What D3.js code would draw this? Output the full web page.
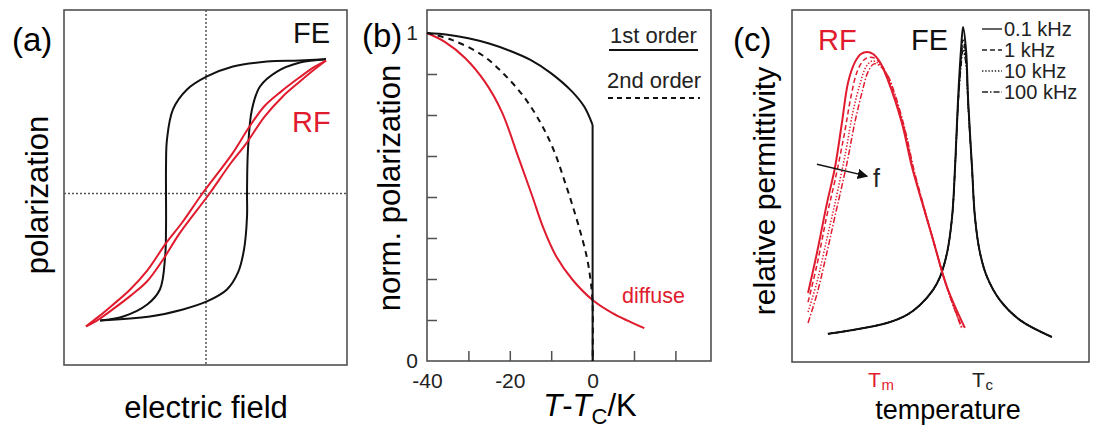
<!DOCTYPE html>
<html><head><meta charset="utf-8">
<script src="https://cdn.jsdelivr.net/npm/d3@7"></script>
<style>
body{margin:0;background:#fff}
svg{display:block;font-family:"Liberation Sans",Arial,sans-serif}
</style>
</head><body>
<svg id="chart" width="1096" height="436"></svg>
<script>
// ---------- Panel (a): hysteresis loops (normalized E, P) ----------
const feUpperE = [1.00, 0.78, 0.508, 0.225, 0.008, -0.158, -0.275, -0.325, -0.333, -0.333, -0.333, -0.34, -0.383, -0.49, -0.69, -0.883];
const feUpperP = [1.01, 1.00, 0.992, 0.955, 0.88, 0.782, 0.632, 0.406, 0.203, 0.0, -0.27, -0.47, -0.72, -0.835, -0.925, -0.955];
const feLowerE = [-0.883, -0.467, -0.192, 0.008, 0.175, 0.267, 0.317, 0.342, 0.342, 0.35, 0.383, 0.45, 0.592, 0.783, 1.00];
const feLowerP = [-0.955, -0.925, -0.872, -0.812, -0.722, -0.594, -0.421, -0.173, 0.008, 0.331, 0.632, 0.805, 0.917, 0.985, 1.01];
const rfUpE = [-1.00, -0.90, -0.775, -0.63, -0.49, -0.36, -0.22, 0.03, 0.20, 0.33, 0.49, 0.64, 0.78, 0.90, 1.00];
const rfUpP = [-1.00, -0.95, -0.87, -0.77, -0.66, -0.50, -0.30, 0.00, 0.22, 0.37, 0.58, 0.73, 0.84, 0.93, 1.00];
const rfDownE = [1.00, 0.90, 0.775, 0.63, 0.49, 0.36, 0.22, -0.03, -0.20, -0.33, -0.49, -0.64, -0.78, -0.90, -1.00];
const rfDownP = [1.00, 0.95, 0.87, 0.77, 0.66, 0.50, 0.30, 0.00, -0.22, -0.37, -0.58, -0.73, -0.84, -0.93, -1.00];

// ---------- Panel (b): normalized polarization vs T-Tc ----------
const bXTicks = [-30, -20, -10, 0, 10, 20];
const bXLabels = [-40, -20, 0];
const bYTicks = [0.125, 0.25, 0.375, 0.5, 0.625, 0.75, 0.875];
const bYLabels = [0, 1];
const firstT = [-40, -35, -30, -25, -20, -15, -10, -5, -2, 0];
const firstP = [1.0, 0.995, 0.984, 0.968, 0.946, 0.918, 0.877, 0.822, 0.775, 0.72];
const secondT = [-40, -34, -26.7, -21.2, -16.4, -12.3, -9.2, -6.8, -5.0, -3.1, -1.4, -0.5, 0, 0];
const secondP = [1.0, 0.979, 0.933, 0.872, 0.802, 0.72, 0.637, 0.55, 0.48, 0.40, 0.317, 0.247, 0.177, 0];
const diffuseT = [-40, -35.7, -30.8, -26.0, -21.9, -18.1, -16.9, -14.5, -12.0, -8.7, -4.8, 0, 4.8, 12.5];
const diffuseP = [1.0, 0.973, 0.924, 0.851, 0.759, 0.627, 0.585, 0.50, 0.409, 0.317, 0.247, 0.186, 0.146, 0.10];

// ---------- Panel (c): relative permittivity vs temperature (arb. units) ----------
const freqLabels = ["0.1 kHz", "1 kHz", "10 kHz", "100 kHz"];
const rf01T = [5.4, 8.4, 11.8, 14.5, 16.8, 18.9, 21.2, 23.2, 25.3, 27.3, 29.6, 32.3, 37.0, 40.4, 43.1, 47.5, 52.2, 58.2];
const rf01E = [19.6, 31.0, 45.2, 55.4, 67.9, 79.5, 85.2, 87.5, 88.1, 87.5, 85.2, 80.1, 67.9, 55.4, 47.4, 34.7, 21.3, 9.7];
const rf1T = [5.4, 8.4, 11.8, 14.5, 17.5, 19.9, 21.9, 24.2, 26.3, 28.3, 30.6, 33.0, 37.4, 40.7, 43.4, 47.5, 51.9, 57.2];
const rf1E = [17.0, 27.6, 41.8, 51.7, 64.2, 75.6, 82.4, 85.8, 86.6, 86.1, 83.8, 79.0, 67.3, 55.1, 46.6, 34.7, 21.9, 9.9];
const rf10T = [5.4, 8.4, 11.8, 14.5, 18.2, 20.5, 22.9, 24.9, 26.9, 29.0, 31.3, 33.7, 37.7, 40.7, 43.4, 47.5, 51.9, 56.9];
const rf10E = [14.2, 22.7, 35.2, 45.2, 60.2, 71.0, 79.0, 83.8, 85.5, 84.9, 82.7, 77.8, 66.8, 55.1, 46.6, 34.7, 21.9, 10.2];
const rf100T = [5.4, 8.4, 11.8, 14.5, 18.5, 21.2, 23.6, 25.6, 27.6, 29.6, 32.0, 34.3, 38.0, 41.1, 43.8, 47.8, 52.2, 57.2];
const rf100E = [11.1, 19.3, 31.3, 41.5, 56.5, 68.2, 76.7, 82.4, 84.7, 84.1, 81.8, 77.0, 66.2, 54.5, 46.0, 33.8, 21.0, 9.4];
const feT = [12.1, 20.5, 32.0, 38.7, 43.1, 47.5, 49.8, 52.2, 53.9, 54.9, 55.9, 56.9, 57.6, 58.6, 59.3, 60.6, 61.6, 63.3, 65.7, 70.0, 76.8, 87.5];
const fe01E = [8.0, 9.1, 11.1, 13.4, 16.2, 20.5, 24.1, 31.0, 41.2, 55.4, 74.4, 88.6, 95.2, 88.6, 74.4, 55.4, 41.2, 31.0, 24.1, 17.6, 11.9, 7.1];
const fe1E = [8.0, 9.1, 11.1, 13.4, 16.2, 20.5, 24.1, 31.0, 41.2, 55.4, 73.5, 86.0, 91.5, 86.5, 73.8, 55.4, 41.2, 31.0, 24.1, 17.6, 11.9, 7.1];
const fe10E = [8.0, 9.1, 11.1, 13.4, 16.2, 20.5, 24.1, 31.0, 41.2, 55.0, 73.0, 85.0, 90.0, 85.5, 73.2, 55.2, 41.2, 31.0, 24.1, 17.6, 11.9, 7.1];
const fe100E = [8.0, 9.1, 11.1, 13.4, 16.2, 20.5, 24.1, 31.0, 41.0, 54.8, 72.5, 84.0, 88.5, 84.5, 72.8, 55.0, 41.0, 31.0, 24.1, 17.6, 11.9, 7.1];
const cTickMain = ["T", "T"];
const cTickSub = ["m", "c"];
const cTickPos = [25.6, 60.6];

// ---------- drawing ----------
const RED = "#e01b2e";
const FRAME = "#505050";
const svg = d3.select("#chart");
const zip = (a, b) => a.map((v, i) => [v, b[i]]);
const dashes = [null, "5,3", "1.4,1.8", "6,2,1.5,2"];

// ===== Panel (a) =====
const xA = d3.scaleLinear().domain([-1.183, 1.175]).range([64, 347]);
const yA = d3.scaleLinear().domain([-1.29, 1.38]).range([365, 10]);
const gA = svg.append("g");
gA.append("rect").attr("x", 64).attr("y", 10).attr("width", 283).attr("height", 355)
  .attr("fill", "none").attr("stroke", FRAME).attr("stroke-width", 1.6);
gA.append("line").attr("x1", xA(0)).attr("x2", xA(0)).attr("y1", 10).attr("y2", 365)
  .attr("stroke", "#555").attr("stroke-width", 1.5).attr("stroke-dasharray", "2,2");
gA.append("line").attr("x1", 64).attr("x2", 347).attr("y1", yA(0)).attr("y2", yA(0))
  .attr("stroke", "#555").attr("stroke-width", 1.5).attr("stroke-dasharray", "2,2");
const lineA = d3.line().x(d => xA(d[0])).y(d => yA(d[1])).curve(d3.curveCatmullRom.alpha(0.5));
[[feUpperE, feUpperP], [feLowerE, feLowerP]].forEach(([e, p]) =>
  gA.append("path").attr("d", lineA(zip(e, p))).attr("fill", "none").attr("stroke", "#111").attr("stroke-width", 2));
[[rfUpE, rfUpP], [rfDownE, rfDownP]].forEach(([e, p]) =>
  gA.append("path").attr("d", lineA(zip(e, p))).attr("fill", "none").attr("stroke", RED).attr("stroke-width", 2));
gA.append("text").attr("x", 12).attr("y", 51).attr("font-size", 33).text("(a)");
gA.append("text").attr("x", 293).attr("y", 43).attr("font-size", 29).attr("fill", "#111").text("FE");
gA.append("text").attr("x", 292).attr("y", 132).attr("font-size", 29).attr("fill", RED).text("RF");
gA.append("text").attr("transform", "translate(48,195) rotate(-90)").attr("text-anchor", "middle")
  .attr("font-size", 31).text("polarization");
gA.append("text").attr("x", 206).attr("y", 418).attr("text-anchor", "middle").attr("font-size", 31).text("electric field");

// ===== Panel (b) =====
const xB = d3.scaleLinear().domain([-40, 28.6]).range([427, 711]);
const yB = d3.scaleLinear().domain([0, 1]).range([361, 33]);
const gB = svg.append("g");
gB.append("rect").attr("x", 427).attr("y", 10).attr("width", 284).attr("height", 351)
  .attr("fill", "none").attr("stroke", FRAME).attr("stroke-width", 1.6);
const styleAxis = g => { g.select(".domain").remove(); g.selectAll("line").attr("stroke", FRAME).attr("stroke-width", 1.5);
  g.selectAll("text").attr("font-family", "Liberation Sans, Arial, sans-serif").attr("font-size", 21).attr("fill", "#222"); };
gB.append("g").attr("transform", "translate(0,361)")
  .call(d3.axisBottom(xB).tickValues(bXTicks).tickSize(-10).tickFormat("")).call(styleAxis);
gB.append("g").attr("transform", "translate(0,361)")
  .call(d3.axisBottom(xB).tickValues(bXLabels).tickSize(0).tickPadding(12).tickFormat(d => String(d))).call(styleAxis);
gB.append("g").attr("transform", "translate(427,0)")
  .call(d3.axisLeft(yB).tickValues(bYTicks).tickSize(-10).tickFormat("")).call(styleAxis);
gB.append("g").attr("transform", "translate(427,0)")
  .call(d3.axisLeft(yB).tickValues(bYLabels).tickSize(0).tickPadding(9).tickFormat(d => String(d))).call(styleAxis);
const lineB = d3.line().x(d => xB(d[0])).y(d => yB(d[1])).curve(d3.curveCatmullRom.alpha(0.5));
gB.append("path").attr("d", lineB(zip(diffuseT, diffuseP))).attr("fill", "none").attr("stroke", RED).attr("stroke-width", 2);
gB.append("path").attr("d", lineB(zip(secondT, secondP))).attr("fill", "none").attr("stroke", "#111")
  .attr("stroke-width", 2).attr("stroke-dasharray", "6,5");
gB.append("path").attr("d", lineB(zip(firstT, firstP))).attr("fill", "none").attr("stroke", "#111").attr("stroke-width", 2);
gB.append("line").attr("x1", xB(0)).attr("x2", xB(0)).attr("y1", yB(firstP[firstP.length - 1])).attr("y2", yB(0))
  .attr("stroke", "#111").attr("stroke-width", 2);
gB.append("text").attr("x", 362).attr("y", 47).attr("font-size", 33).text("(b)");
gB.append("text").attr("x", 610).attr("y", 43).attr("font-size", 22).attr("fill", "#222").text("1st order");
gB.append("line").attr("x1", 609).attr("x2", 698).attr("y1", 50).attr("y2", 50).attr("stroke", "#111").attr("stroke-width", 2);
gB.append("text").attr("x", 607).attr("y", 88).attr("font-size", 22).attr("fill", "#222").text("2nd order");
gB.append("line").attr("x1", 608).attr("x2", 700).attr("y1", 98).attr("y2", 98).attr("stroke", "#111")
  .attr("stroke-width", 2).attr("stroke-dasharray", "5,4");
gB.append("text").attr("x", 622).attr("y", 303).attr("font-size", 21.5).attr("fill", RED).text("diffuse");
gB.append("text").attr("transform", "translate(400,188) rotate(-90)").attr("text-anchor", "middle")
  .attr("font-size", 31).text("norm. polarization");
const xl = gB.append("text").attr("x", 590).attr("y", 416).attr("text-anchor", "middle").attr("font-size", 31);
xl.append("tspan").attr("font-style", "italic").text("T");
xl.append("tspan").text("-");
xl.append("tspan").attr("font-style", "italic").text("T");
xl.append("tspan").attr("font-size", 22).attr("dy", 8).text("C");
xl.append("tspan").attr("dy", -8).text("/K");

// ===== Panel (c) =====
const xC = d3.scaleLinear().domain([0, 100]).range([792, 1089]);
const yC = d3.scaleLinear().domain([0, 100]).range([362, 10]);
const gC = svg.append("g");
gC.append("rect").attr("x", 792).attr("y", 10).attr("width", 297).attr("height", 352)
  .attr("fill", "none").attr("stroke", FRAME).attr("stroke-width", 1.6);
const lineC = d3.line().x(d => xC(d[0])).y(d => yC(d[1])).curve(d3.curveCatmullRom.alpha(0.5));
const rfSeries = [[rf01T, rf01E], [rf1T, rf1E], [rf10T, rf10E], [rf100T, rf100E]];
const feSeries = [fe01E, fe1E, fe10E, fe100E];
feSeries.slice().reverse().forEach((e, ri) => {
  const i = 3 - ri;
  gC.append("path").attr("d", lineC(zip(feT, e))).attr("fill", "none").attr("stroke", "#111")
    .attr("stroke-width", i === 0 ? 2 : 1.4).attr("stroke-dasharray", dashes[i]);
});
rfSeries.slice().reverse().forEach(([t, e], ri) => {
  const i = 3 - ri;
  gC.append("path").attr("d", lineC(zip(t, e))).attr("fill", "none").attr("stroke", RED)
    .attr("stroke-width", i === 0 ? 2 : 1.5).attr("stroke-dasharray", dashes[i]);
});
// legend
freqLabels.forEach((lab, i) => {
  const yy = 29 + i * 21;
  gC.append("line").attr("x1", 982).attr("x2", 1002).attr("y1", yy).attr("y2", yy)
    .attr("stroke", "#222").attr("stroke-width", 1.4).attr("stroke-dasharray", dashes[i]);
  gC.append("text").attr("x", 1004).attr("y", yy + 7).attr("font-size", 20).attr("fill", "#222").text(lab);
});
gC.append("text").attr("x", 733).attr("y", 51).attr("font-size", 33).text("(c)");
gC.append("text").attr("x", 818).attr("y", 50).attr("font-size", 29).attr("fill", RED).text("RF");
gC.append("text").attr("x", 911).attr("y", 50).attr("font-size", 29).attr("fill", "#111").text("FE");
// arrow with f
svg.append("defs").append("marker").attr("id", "arr").attr("viewBox", "0 0 10 10").attr("refX", 9).attr("refY", 5)
  .attr("markerWidth", 7).attr("markerHeight", 7).attr("orient", "auto")
  .append("path").attr("d", "M0,0 L10,5 L0,10 z").attr("fill", "#111");
gC.append("line").attr("x1", xC(8.4)).attr("y1", yC(56.2)).attr("x2", xC(25.3)).attr("y2", yC(52.8))
  .attr("stroke", "#111").attr("stroke-width", 1.5).attr("marker-end", "url(#arr)");
gC.append("text").attr("x", 873).attr("y", 187).attr("font-size", 25).attr("fill", "#222").text("f");
cTickMain.forEach((m, i) => {
  const x0 = xC(cTickPos[i]);
  const col = i === 0 ? RED : "#222";
  gC.append("text").attr("x", x0).attr("y", 387).attr("font-size", 21).attr("fill", col).text(m);
  gC.append("text").attr("x", x0 + 13.5).attr("y", 390).attr("font-size", 15).attr("fill", col).text(cTickSub[i]);
});
gC.append("text").attr("transform", "translate(775,191) rotate(-90)").attr("text-anchor", "middle")
  .attr("font-size", 30).text("relative permittivity");
gC.append("text").attr("x", 948).attr("y", 419).attr("text-anchor", "middle").attr("font-size", 27).text("temperature");
</script>
</body></html>
